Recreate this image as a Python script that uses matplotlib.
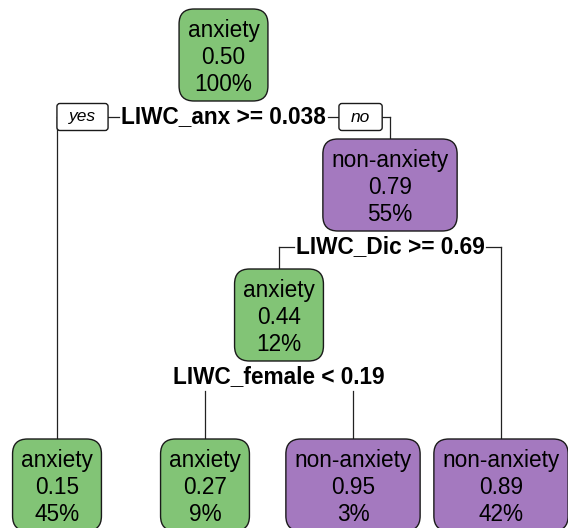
import matplotlib
matplotlib.use('Agg')
import matplotlib.pyplot as plt
from matplotlib.patches import FancyBboxPatch

# rpart node numbers: children of node n are 2n (yes) and 2n+1 (no)
node_ids = [1, 2, 3, 6, 7, 12, 13]
node_class = ['anxiety', 'anxiety', 'non-anxiety', 'anxiety', 'non-anxiety', 'anxiety', 'non-anxiety']
node_prob = [0.50, 0.15, 0.79, 0.44, 0.89, 0.27, 0.95]
node_pct = [100, 45, 55, 12, 42, 9, 3]
split_nodes = [1, 3, 6]
split_labels = ['LIWC_anx >= 0.038', 'LIWC_Dic >= 0.69', 'LIWC_female < 0.19']

class_colors = {'anxiety': '#82c476', 'non-anxiety': '#a479bf'}

# layout (pixels, y down)
W, H = 568, 528
LEAF_X0 = 57
LEAF_STEP = 148
TOP0 = 9
LEVEL = 130
LEAF_TOP = 439
BOX_H = 92
FS = 16.3
FONT = 'Liberation Sans'
LINE_C = '#222222'


def children(n):
	if 2 * n in node_ids:
		return [2 * n, 2 * n + 1]
	return []


def leaves(n):
	ch = children(n)
	if not ch:
		return [n]
	return leaves(ch[0]) + leaves(ch[1])


def depth(n):
	d = 0
	while n > 1:
		n //= 2
		d += 1
	return d


def main():
	fig = plt.figure(figsize=(W / 100, H / 100), dpi=100)
	ax = fig.add_axes([0, 0, 1, 1])
	ax.set_xlim(0, W)
	ax.set_ylim(H, 0)
	ax.axis('off')
	renderer = fig.canvas.get_renderer()
	inv = ax.transData.inverted()

	def xspan(t):
		bb = t.get_window_extent(renderer)
		(a, _), (b, _) = inv.transform([[bb.x0, bb.y0], [bb.x1, bb.y1]])
		return a, b

	# positions
	xpos = {}
	for i, leaf in enumerate(leaves(1)):
		xpos[leaf] = LEAF_X0 + i * LEAF_STEP

	def setx(n):
		ch = children(n)
		if ch:
			xpos[n] = (setx(ch[0]) + setx(ch[1])) / 2.0
		return xpos[n]
	setx(1)
	top = {}
	for n in node_ids:
		top[n] = LEAF_TOP if not children(n) else TOP0 + depth(n) * LEVEL

	# nodes
	for n, cls, p, pct in zip(node_ids, node_class, node_prob, node_pct):
		x, y = xpos[n], top[n]
		lines = [cls, '%.2f' % p, '%d%%' % pct]
		widths = []
		for k, s in enumerate(lines):
			t = ax.text(x, y + 28 + 27 * k, s, ha='center', va='baseline',
						fontsize=FS, family=FONT, color='black', zorder=4)
			a, b = xspan(t)
			widths.append(b - a)
		bw = max(widths) + 17
		box = FancyBboxPatch((x - bw / 2, y), bw, BOX_H,
							 boxstyle='round,pad=0,rounding_size=15',
							 fc=class_colors[cls], ec='#1a1a1a', lw=1.0, zorder=3)
		ax.add_patch(box)

	# splits and branches
	for n, lab in zip(split_nodes, split_labels):
		x = xpos[n]
		line_y = top[n] + BOX_H + 16
		t = ax.text(x, line_y + 6, lab, ha='center', va='baseline', fontsize=FS,
					family=FONT, fontweight='bold', color='black', zorder=4)
		x0, x1 = xspan(t)
		xl, xr = xpos[2 * n], xpos[2 * n + 1]
		if n == 1:
			ty = ax.text(0, line_y, 'yes', ha='center', va='center', fontsize=12.5,
						 family=FONT, style='italic', color='black', zorder=6)
			a, b = xspan(ty)
			yw = (b - a) + 24
			yr = x0 - 13
			ty.set_x(yr - yw / 2)
			ax.add_patch(FancyBboxPatch((yr - yw, line_y - 13.5), yw, 27,
										boxstyle='round,pad=0,rounding_size=3',
										fc='white', ec='#1a1a1a', lw=1.0, zorder=5))
			tn = ax.text(0, line_y, 'no', ha='center', va='center', fontsize=12.5,
						 family=FONT, style='italic', color='black', zorder=6)
			a, b = xspan(tn)
			nw = (b - a) + 24
			nl = x1 + 13
			tn.set_x(nl + nw / 2)
			ax.add_patch(FancyBboxPatch((nl, line_y - 13.5), nw, 27,
										boxstyle='round,pad=0,rounding_size=3',
										fc='white', ec='#1a1a1a', lw=1.0, zorder=5))
		for cx, edge, side in [(xl, x0, -1), (xr, x1, 1)]:
			child = 2 * n if side < 0 else 2 * n + 1
			if (side < 0 and cx < x0) or (side > 0 and cx > x1):
				ax.plot([edge + 2 * side, cx], [line_y, line_y], color=LINE_C, lw=0.9, zorder=2)
				ax.plot([cx, cx], [line_y, top[child]], color=LINE_C, lw=0.9, zorder=2)
			else:
				ax.plot([cx, cx], [line_y + 14, top[child]], color=LINE_C, lw=0.9, zorder=2)

	fig.savefig('out.png', dpi=100)


if __name__ == '__main__':
	main()
